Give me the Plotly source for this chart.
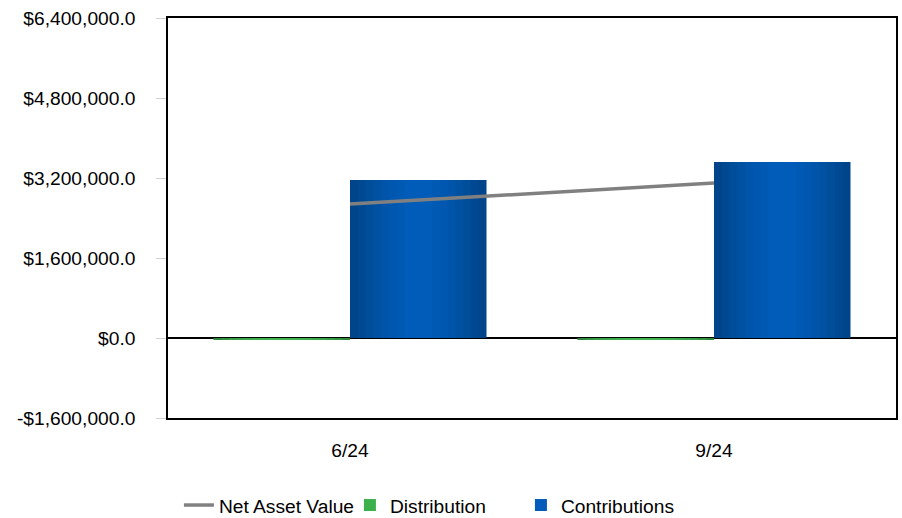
import plotly.graph_objects as go

categories = ["6/24", "9/24"]
net_asset_value = [2680000, 3100000]
distribution = [-40000, -40000]
contributions = [3160000, 3520000]
tick_values = [-1600000, 0, 1600000, 3200000, 4800000, 6400000]
tick_labels = ["-$1,600,000.0", "$0.0", "$1,600,000.0", "$3,200,000.0", "$4,800,000.0", "$6,400,000.0"]

FONT = dict(family="Liberation Sans, Arial, sans-serif", size=19.2, color="#000000")
BAR_W = 0.375

fig = go.Figure()

# gradient-like bars via layered overlays (dark edges, lighter centre)
blue_layers = ["#00448A", "#004992", "#004D9A", "#0051A2", "#0054A9", "#0057AF", "#005AB4", "#005CB8"]
green_layers = ["#2E883B", "#329341", "#369C45", "#39A449", "#3BAA4B", "#3DAF4D", "#3EB24E", "#3FB44F"]


def add_layers(values, colors, name, legend_color, offset_sign, rank):
    n = len(colors)
    for k, col in enumerate(colors):
        w = BAR_W * (1 - k / (n + 0.8))
        if offset_sign < 0:
            off = -BAR_W + (BAR_W - w) / 2
        else:
            off = (BAR_W - w) / 2
        fig.add_trace(go.Bar(
            x=categories, y=values, width=w, offset=off,
            marker=dict(color=col, line=dict(width=0)),
            name=name, showlegend=False, hoverinfo="skip" if k else None,
        ))
    fig.add_trace(go.Bar(
        x=[None], y=[None], name=name, legendrank=rank,
        marker=dict(color=legend_color, line=dict(width=0)), showlegend=True,
    ))


add_layers(distribution, green_layers, "Distribution", "#3CB04B", -1, 2)
add_layers(contributions, blue_layers, "Contributions", "#005BBB", 1, 3)

fig.add_trace(go.Scatter(
    x=categories, y=net_asset_value, mode="lines", name="Net Asset Value",
    line=dict(color="#808080", width=3.5), legendrank=1,
))

fig.update_layout(
    width=902, height=518,
    margin=dict(l=168, r=6, t=18, b=100, autoexpand=False),
    paper_bgcolor="white", plot_bgcolor="white",
    barmode="overlay",
    font=FONT,
    showlegend=True,
    legend=dict(
        orientation="h", x=0.015, xanchor="left",
        yref="container", y=0.025, yanchor="middle",
        font=FONT, traceorder="normal", entrywidth=126,
    ),
    xaxis=dict(
        type="category", range=[-0.5, 1.5], automargin=False,
        showline=True, linecolor="#000000", linewidth=1.5, mirror=True,
        ticks="", showgrid=False, tickfont=FONT, ticklabelstandoff=14,
    ),
    yaxis=dict(
        range=[-1600000, 6400000], tickvals=tick_values, ticktext=tick_labels,
        automargin=False,
        showline=True, linecolor="#000000", linewidth=1.5, mirror=True,
        ticks="outside", ticklen=10, tickcolor="#D0D0D0", tickwidth=1,
        showgrid=False, zeroline=True, zerolinecolor="#000000", zerolinewidth=1.5,
        tickfont=FONT, ticklabelstandoff=17,
    ),
)

fig.write_html(
    "out.html",
    config={"displayModeBar": False},
    post_script="document.body.style.margin='0';document.body.style.overflow='hidden';",
)
